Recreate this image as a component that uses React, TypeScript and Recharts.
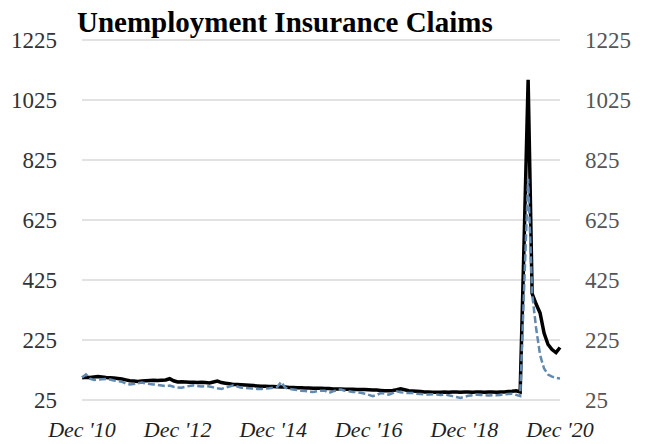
import React from 'react';
import { LineChart, Line, XAxis, YAxis, CartesianGrid } from 'recharts';

// Monthly values, Dec 2010 (index 0) through Dec 2020 (index 120)
const claimsBlack: number[] = [
  99, 101, 100, 102, 103, 102, 100, 99, 98, 97,
  95, 92, 89, 88, 87, 88, 89, 90, 91, 90,
  91, 92, 96, 89, 85, 86, 85, 84, 84, 83,
  84, 83, 82, 85, 88, 83, 81, 79, 77, 77,
  76, 75, 74, 73, 72, 71, 71, 70, 70, 69,
  68, 68, 67, 67, 66, 66, 65, 65, 64, 64,
  64, 63, 63, 62, 62, 62, 61, 61, 61, 60,
  60, 60, 59, 58, 58, 57, 56, 56, 57, 59,
  62, 59, 56, 55, 54, 53, 52, 52, 51, 51,
  51, 52, 51, 52, 52, 51, 52, 52, 51, 52,
  52, 51, 52, 52, 51, 52, 52, 53, 54, 56,
  52, 560, 1092, 380, 345, 315, 248, 210, 193, 183,
  200,
];

const claimsBlue: number[] = [
  100, 110, 96, 92, 93, 94, 95, 93, 90, 88,
  86, 80, 77, 78, 81, 83, 80, 78, 77, 75,
  73, 71, 73, 69, 67, 66, 69, 72, 74, 72,
  70, 71, 70, 67, 64, 62, 66, 70, 74, 70,
  66, 65, 64, 63, 62, 62, 63, 64, 66, 68,
  85, 66, 62, 60, 58, 56, 55, 53, 52, 54,
  56, 56, 48, 54, 58, 60, 56, 54, 52, 51,
  49, 46, 42, 38, 42, 48, 46, 43, 48, 54,
  51, 49, 48, 48, 46, 45, 44, 43, 44, 43,
  42, 43, 41, 38, 35, 32, 36, 39, 41, 43,
  42, 41, 40, 41, 41, 42, 44, 45, 46, 42,
  38, 400, 762, 380, 265, 175, 130, 110, 103, 99,
  97,
];

const xTicks: number[] = [0, 24, 48, 72, 96, 120];
const xTickLabels: string[] = ["Dec '10", "Dec '12", "Dec '14", "Dec '16", "Dec '18", "Dec '20"];
const yTicks: number[] = [25, 225, 425, 625, 825, 1025, 1225];
const title = 'Unemployment Insurance Claims';

const data = claimsBlack.map((v, i) => ({ m: i, black: v, blue: claimsBlue[i] }));

const FONT = '"Liberation Serif", "Times New Roman", serif';

const XTick = (props: any) => {
  const { x, y, payload } = props;
  const label = xTickLabels[xTicks.indexOf(payload.value)];
  return (
    <text
      x={x}
      y={y + 37}
      textAnchor="middle"
      style={{ fontFamily: FONT, fontStyle: 'italic', fontSize: 22, fill: '#1f1f1f' }}
    >
      {label}
    </text>
  );
};

export default function App() {
  return (
    <div style={{ position: 'absolute', left: 0, top: 0, width: 649, height: 444, background: '#fff' }}>
      <LineChart
        width={649}
        height={444}
        data={data}
        margin={{ top: 40, right: 0, bottom: 0, left: 0 }}
      >
        <CartesianGrid
          yAxisId="left"
          vertical={false}
          stroke="#d9d9d9"
          strokeWidth={1.5}
        />
        <XAxis
          dataKey="m"
          type="number"
          domain={[0, 120]}
          ticks={xTicks}
          interval={0}
          axisLine={false}
          tickLine={false}
          tickSize={0}
          tickMargin={0}
          height={44}
          tick={<XTick />}
        />
        <YAxis
          yAxisId="left"
          orientation="left"
          domain={[25, 1225]}
          ticks={yTicks}
          interval={0}
          width={82}
          axisLine={false}
          tickLine={false}
          tickSize={0}
          tickMargin={25}
          tick={{ fontFamily: FONT, fontSize: 23, fill: '#333333' }}
        />
        <YAxis
          yAxisId="right"
          orientation="right"
          domain={[25, 1225]}
          ticks={yTicks}
          interval={0}
          width={89}
          axisLine={false}
          tickLine={false}
          tickSize={0}
          tickMargin={25}
          tick={{ fontFamily: FONT, fontSize: 23, fill: '#555555' }}
        />
        <Line
          yAxisId="left"
          type="linear"
          dataKey="black"
          stroke="#000000"
          strokeWidth={3.5}
          dot={false}
          isAnimationActive={false}
        />
        <Line
          yAxisId="right"
          type="linear"
          dataKey="blue"
          stroke="#6289b0"
          strokeWidth={2.5}
          strokeDasharray="7 3"
          dot={false}
          isAnimationActive={false}
        />
      </LineChart>
      <svg
        width={649}
        height={444}
        style={{ position: 'absolute', left: 0, top: 0, pointerEvents: 'none' }}
      >
        <text x={77} y={31.5} fontFamily={FONT} fontWeight="bold" fontSize={29} fill="#000">
          {title}
        </text>
      </svg>
    </div>
  );
}
